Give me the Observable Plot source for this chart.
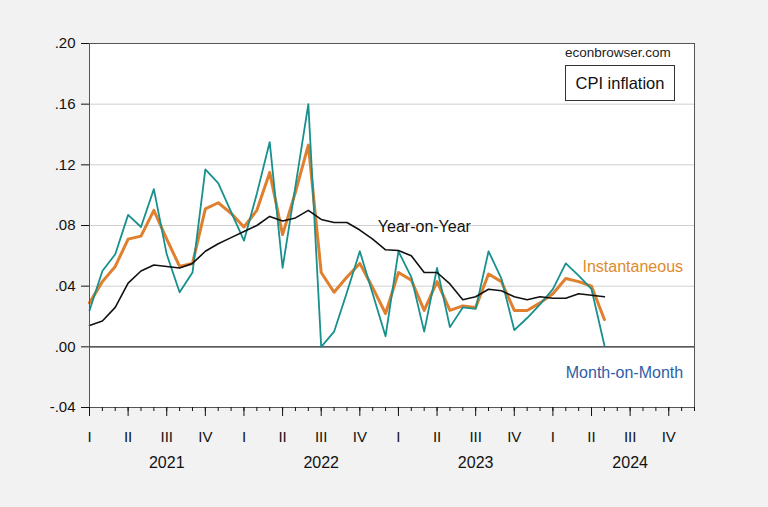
<!DOCTYPE html>
<html>
<head>
<meta charset="utf-8">
<script src="https://cdn.jsdelivr.net/npm/d3@7"></script>
<script src="https://cdn.jsdelivr.net/npm/@observablehq/plot@0.6"></script>
<style>
  html, body { margin: 0; padding: 0; background: #f2f2f2; }
  #wrap { position: relative; width: 768px; height: 507px; font-family: "Liberation Sans", Arial, sans-serif; }
  #src { position: absolute; left: 565px; top: 45px; font-size: 13.5px; color: #222; }
  #box { position: absolute; left: 565px; top: 65px; width: 108px; height: 34px; border: 1px solid #333; background: #fff;
         font-size: 16.5px; color: #111; display: flex; align-items: center; justify-content: center; box-sizing: content-box; }
</style>
</head>
<body>
<div id="wrap"></div>
<script>
// Monthly observations, Jan 2021 .. May 2024 (index 0 = Jan 2021)
const monthOnMonth = [
  0.024, 0.050, 0.061, 0.087, 0.079, 0.104, 0.061, 0.036, 0.049,
  0.117, 0.108, 0.089, 0.070, 0.101, 0.135, 0.052, 0.106, 0.160,
  0.000, 0.010, 0.036, 0.063, 0.035, 0.007, 0.063,
  0.046, 0.010, 0.052, 0.013, 0.026, 0.025, 0.063, 0.045, 0.011,
  0.019, 0.028, 0.038, 0.055, 0.047, 0.038, 0.001
];
const instantaneous = [
  0.029, 0.043, 0.053, 0.071, 0.073, 0.090, 0.071, 0.053, 0.055,
  0.091, 0.095, 0.088, 0.079, 0.090, 0.115, 0.074, 0.102, 0.133,
  0.049, 0.036, 0.046, 0.055, 0.039, 0.022, 0.049,
  0.044, 0.024, 0.043, 0.024, 0.027, 0.026, 0.048, 0.043, 0.024,
  0.024, 0.029, 0.035, 0.045, 0.043, 0.040, 0.018
];
const yearOnYear = [
  0.014, 0.017, 0.026, 0.042, 0.050, 0.054, 0.053, 0.052, 0.055,
  0.063, 0.068, 0.072, 0.076, 0.080, 0.086, 0.083, 0.085, 0.090,
  0.084, 0.082, 0.082, 0.077, 0.071, 0.064, 0.0635,
  0.060, 0.049, 0.049, 0.0415, 0.031, 0.033, 0.038, 0.037, 0.033,
  0.031, 0.033, 0.032, 0.032, 0.035, 0.034, 0.033
];
const years = ["2021", "2022", "2023", "2024"];
const quarterLabels = ["I", "II", "III", "IV"];
const yTicks = [-0.04, 0.00, 0.04, 0.08, 0.12, 0.16, 0.20];
const seriesLabels = [
  {text: "Year-on-Year", i: 22.4, v: 0.079, color: "#111111"},
  {text: "Instantaneous", i: 38.3, v: 0.053, color: "#e08a2c"},
  {text: "Month-on-Month", i: 37.0, v: -0.017, color: "#2d5ea6"}
];

const nMonths = years.length * 12; // axis spans Jan 2021 .. Dec 2024
const data = monthOnMonth.map((v, i) => ({i, mom: v, inst: instantaneous[i], yoy: yearOnYear[i]}));
const fmt = d => (d < 0 ? "-" : "") + Math.abs(d).toFixed(2).slice(1);

const chart = Plot.plot({
  width: 768, height: 507,
  marginLeft: 89, marginRight: 74, marginTop: 43, marginBottom: 100,
  style: {background: "transparent", fontFamily: "'Liberation Sans', Arial, sans-serif", fontSize: "15px", color: "#111"},
  x: {domain: [0, nMonths - 1]},
  y: {domain: [-0.04, 0.20]},
  marks: [
    Plot.frame({fill: "white"}),
    Plot.gridY(yTicks.filter(d => d > 0 && d < 0.2), {stroke: "#cfcfcf", strokeOpacity: 1}),
    Plot.ruleY([0], {stroke: "#222", strokeWidth: 1.2}),
    Plot.line(data, {x: "i", y: "inst", stroke: "#e07f2e", strokeWidth: 3}),
    Plot.line(data, {x: "i", y: "mom", stroke: "#17908e", strokeWidth: 1.8}),
    Plot.line(data, {x: "i", y: "yoy", stroke: "#111", strokeWidth: 1.6}),
    Plot.frame({stroke: "#555"}),
    Plot.axisY({ticks: yTicks, tickFormat: fmt, tickSize: 8, tickPadding: 6, label: null}),
    Plot.axisX({ticks: d3.range(0, nMonths), tickSize: 4, tickFormat: () => "", label: null}),
    Plot.axisX({ticks: d3.range(0, nMonths, 3), tickSize: 9, tickPadding: 15, tickFormat: i => quarterLabels[(i / 3) % 4], label: null}),
    Plot.axisX({ticks: d3.range(6, nMonths, 12), tickSize: 0, tickPadding: 49, tickFormat: i => years[Math.floor(i / 12)], label: null, fontSize: 16}),
    Plot.text(seriesLabels, {x: "i", y: "v", text: "text", fill: "color", textAnchor: "start", fontSize: 16})
  ]
});

const wrap = document.getElementById("wrap");
wrap.appendChild(chart);
const src = document.createElement("div"); src.id = "src"; src.textContent = "econbrowser.com"; wrap.appendChild(src);
const box = document.createElement("div"); box.id = "box"; box.textContent = "CPI inflation"; wrap.appendChild(box);
</script>
</body>
</html>
